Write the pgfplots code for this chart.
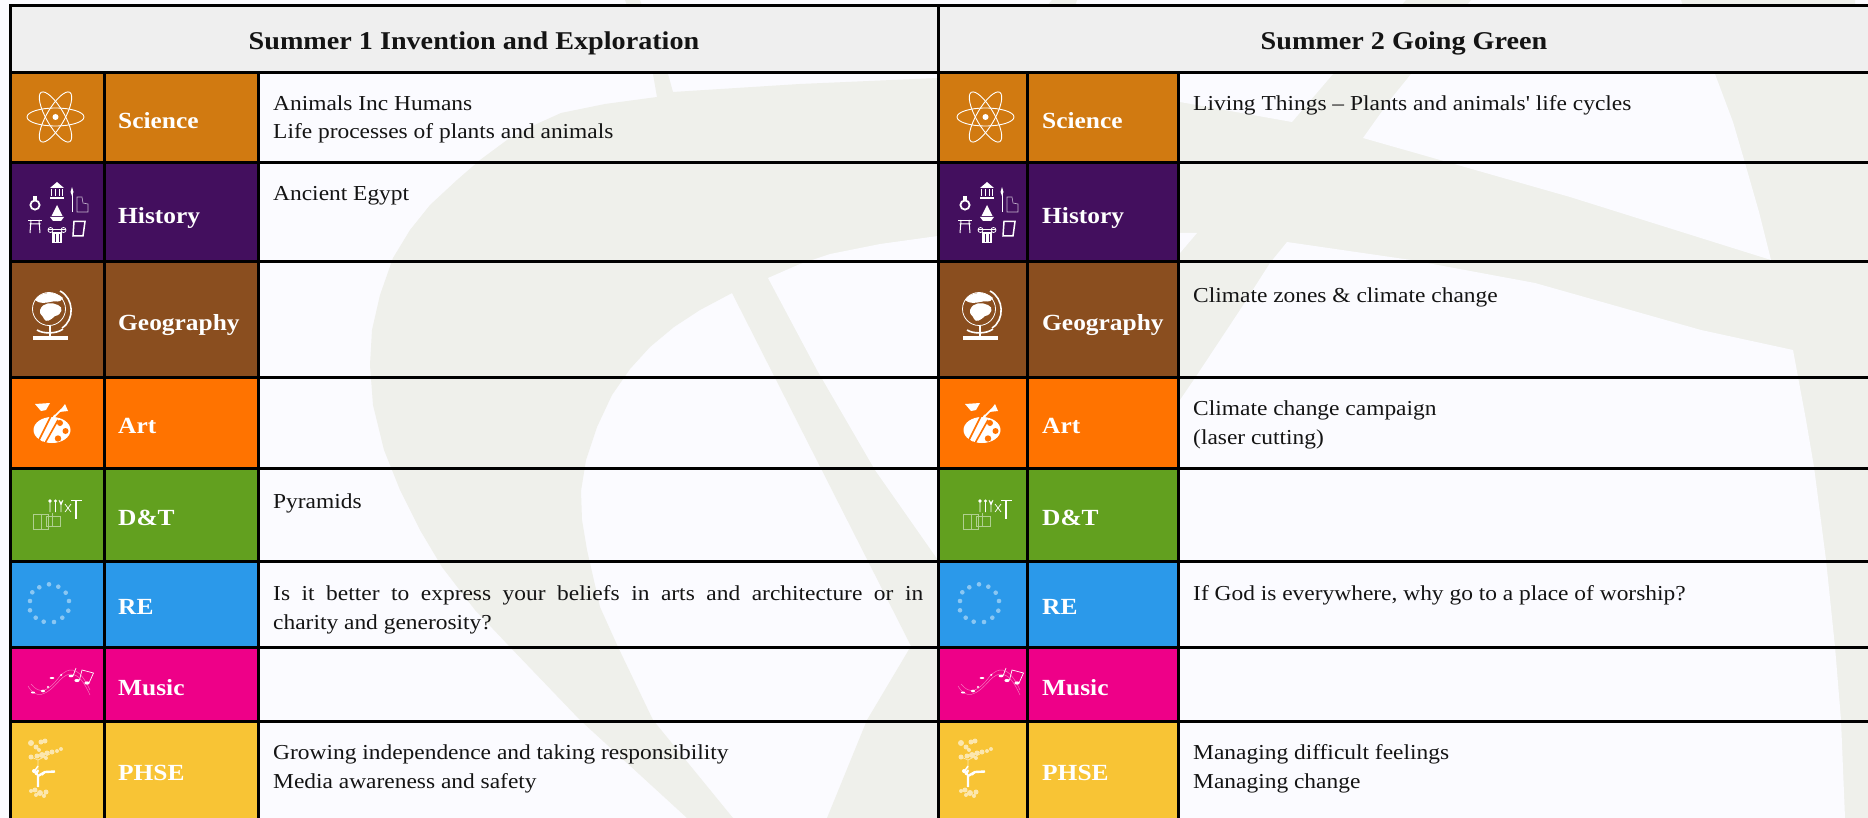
\documentclass[border=0pt]{standalone}
\usepackage{fontspec}
\setmainfont[FakeStretch=1.1]{Liberation Serif}
\newfontfamily\plainf[FakeStretch=1.1]{Liberation Serif}
\usepackage{pgfplots}
\pgfplotsset{compat=1.18}
\definecolor{bgw}{HTML}{FBFBFF}
\definecolor{wm}{HTML}{EFF0EB}
\definecolor{hdr}{HTML}{EFEFEF}
\definecolor{cSci}{HTML}{D17A11}
\definecolor{cHis}{HTML}{430F5E}
\definecolor{cGeo}{HTML}{8A4E1F}
\definecolor{cArt}{HTML}{FF7300}
\definecolor{cDT}{HTML}{62A01F}
\definecolor{cRE}{HTML}{2B99EA}
\definecolor{cMus}{HTML}{EE0088}
\definecolor{cPH}{HTML}{F8C435}
\newcommand{\poly}[2]{\addplot[fill=#1,draw=none,mark=none] coordinates {#2} --cycle;}
\newcommand{\rowfill}[3]{%
  \poly{#3}{(10,#1)(258,#1)(258,#2)(10,#2)}
  \poly{#3}{(939,#1)(1179,#1)(1179,#2)(939,#2)}}
\newcommand{\hl}[1]{\addplot[black,line width=3pt,mark=none] coordinates {(9,#1)(1868,#1)};}
\newcommand{\vl}[3]{\addplot[black,line width=3pt,mark=none] coordinates {(#1,#2)(#1,#3)};}
\newcommand{\body}[3]{\node[anchor=base west,inner sep=0pt,font=\fontsize{21.3}{25}\selectfont,text=black!92] at (axis cs:#1,#2) {#3};}
\newcommand{\lab}[2]{%
  \node[anchor=base west,inner sep=0pt,font=\fontsize{23.1}{28}\selectfont\bfseries,text=white] at (axis cs:118,#1) {#2};
  \node[anchor=base west,inner sep=0pt,font=\fontsize{23.1}{28}\selectfont\bfseries,text=white] at (axis cs:1042,#1) {#2};}
\newcommand{\icons}[1]{%
\begin{scope}[shift={(axis cs:#1,0)},x=1pt,y=-1pt]
% atom
\begin{scope}[white,line width=.9pt]
\draw (55.5,117) ellipse [x radius=28.5,y radius=9];
\draw[rotate around={60:(55.5,117)}] (55.5,117) ellipse [x radius=28.5,y radius=9];
\draw[rotate around={-60:(55.5,117)}] (55.5,117) ellipse [x radius=28.5,y radius=9];
\fill (55.5,117) circle (3);
\end{scope}
% history
\begin{scope}[white]
\fill (50,188)--(57,182)--(64,188)--cycle;
\fill (50,197) rectangle (64,199.5);
\draw[line width=1pt] (51.5,189)--(51.5,196) (55,189)--(55,196) (59,189)--(59,196) (62.5,189)--(62.5,196);
\draw[line width=1.8pt] (35,205) circle (4.6);
\fill (33,196) rectangle (37,200);
\fill (57,205)--(51.5,216)--(62.5,216)--cycle;
\fill (50,217)--(64,217)--(61,221)--(53,221)--cycle;
\draw[line width=.9pt] (72,191)--(72,212);
\fill (72,187)--(73.5,192)--(72,196)--(70.5,192)--cycle;
\draw[white!70!cHis,line width=.6pt] (77,197)--(82,197)--(83,203)--(88,204)--(88,212)--(77,212)--cycle;
\draw[line width=1.6pt] (28,220.5)--(42,220.5);
\draw[line width=1pt] (29.5,224)--(40.5,224) (31,220)--(30,233) (39,220)--(40,233);
\draw[line width=1.4pt] (48,229.5)--(66,229.5);
\draw[line width=.8pt] (50.5,230) circle (2.5) (63.5,230) circle (2.5);
\fill (52,232) rectangle (62,243);
\draw[cHis,line width=.6pt] (55,234)--(55,242) (59,234)--(59,242);
\draw[line width=1.5pt] (74,221.5)--(85,221.5)--(83,236)--(73,236)--cycle;
\end{scope}
% globe
\begin{scope}[white]
\draw[line width=.8pt] (49,309) circle (16.5);
\draw[line width=1.6pt] (60,291) .. controls (74,298) and (75,320) .. (62,328);
\fill (35,300) .. controls (41,291) and (56,291) .. (63,298) .. controls (60,304) and (55,300) .. (50,302) .. controls (46,303) and (39,304) .. (35,300) -- cycle;
\fill (40,310) .. controls (43,302) and (52,302) .. (58,305) .. controls (64,307) and (62,315) .. (55,316) .. controls (51,320) and (46,323) .. (44,319) .. controls (43,315) and (39,315) .. (40,310) -- cycle;
\draw[line width=1.6pt] (37,330) .. controls (43,334) and (57,334) .. (63,329);
\draw[line width=2pt] (50,326)--(50,336);
\fill (33,335.5) rectangle (68,339.5);
\end{scope}
% palette
\begin{scope}
\fill[white] (52,430) ellipse [x radius=18.5,y radius=13];
\fill[cArt] (60,423) circle (3) (65.5,431) circle (3) (58,438.5) circle (3.2);
\draw[cArt,line width=1.6pt] (37,444)--(52,414) (44,445)--(58,420);
\draw[white,line width=2pt] (42,441)--(55,415);
\fill[white] (35,404)--(50,403)--(46,410)--(41,411)--cycle;
\draw[white,line width=1.7pt] (53,418)--(62,409);
\fill[white] (59,412)--(65,404)--(68,411)--cycle;
\end{scope}
% D&T
\begin{scope}[white]
\draw[line width=1.8pt] (71,500.5)--(82,500.5);
\draw[line width=2.6pt] (76,500)--(76,519);
\fill (50,501) circle (1.8) (55.5,501) circle (1.6);
\draw[line width=.8pt] (50,501)--(50,512) (55.5,501)--(55.5,512) (61,501)--(61,512) (59,500)--(61,505)--(63,500);
\draw[line width=.7pt] (65,504)--(71,512) (71,504)--(65,512);
\draw[white!50!cDT,line width=.7pt] (33,514) rectangle (48,529) (46,516) rectangle (60,526) (41,514)--(41,529) (52,513)--(52,526);
\end{scope}
% RE
\begin{scope}[white,opacity=.45]
\foreach \p/\q in {39.3/587.3,49/584.3,58.3/586.7,65.7/592.7,69/601,68.3/610.7,62.3/617.7,54/622,43.7/621.7,35.7/617.7,30/610.3,30/601,32.3/592.3}{
  \fill (\p,\q) circle (2.3);}
\end{scope}
% Music
\begin{scope}[white]
\draw[white!45!cMus,line width=.5pt] (28,686) .. controls (36,700) and (46,696) .. (60,680) .. controls (68,672) and (78,668) .. (90,695);
\draw[white!45!cMus,line width=.5pt] (31,684) .. controls (40,695) and (48,692) .. (60,676) .. controls (68,668) and (78,664) .. (90,690);
\fill (33,692.5) ellipse [x radius=2,y radius=1] (43,691) ellipse [x radius=2,y radius=1.3] (48,687) circle (1.1) (52,678) ellipse [x radius=2.4,y radius=1] (61,675) circle (1) (71,676) ellipse [x radius=2.4,y radius=1.3] (77,680.5) ellipse [x radius=2.6,y radius=1.6] (87,683) ellipse [x radius=2.6,y radius=1.6];
\draw[line width=.7pt] (79.5,680)--(82,670)--(93.5,673)--(89,683) (73,676)--(76,668) (61,675)--(62,674);
\end{scope}
% PHSE
\begin{scope}
\fill[white!60!cPH] (31,743) circle (3) (36,747) circle (2.5) (41,742) circle (2.5) (45,741) circle (2.5) (39,750) circle (2) (31,757) circle (2.5) (37,756) circle (2.5) (42,755) circle (3) (47,753) circle (2.5) (52,752) circle (2.5) (57,751) circle (2) (61,749) circle (2) (46,758) circle (2) (35,790) circle (2.5) (40,793) circle (3) (46,792) circle (2.5) (31,791) circle (2) (36,795) circle (2) (44,796) circle (2);
\draw[white!60!cPH,line width=.7pt] (38,760)--(38,770) (38,760)--(31,757) (38,760)--(50,754);
\draw[white,line width=2.4pt] (38,770)--(36,775) (38,787)--(38,776)--(45,772)--(55,771.5);
\draw[white,line width=1.5pt] (38,775)--(34,772)--(38,766) (45,772)--(42,775);
\fill[white] (34,771) circle (2);
\end{scope}
\end{scope}}
\begin{document}
\begin{tikzpicture}
\begin{axis}[scale only axis,width=1868pt,height=818pt,xmin=0,xmax=1868,ymin=0,ymax=818,y dir=reverse,axis lines=none,ticks=none]
\poly{bgw}{(0,0)(1868,0)(1868,818)(0,818)}
% watermark, strip above the table
\poly{wm}{(625,0)(640,0)(642,6)(627,6)}
\poly{wm}{(1052,0)(1077,0)(1075,6)(1047,6)}
\poly{wm}{(1406,0)(1471,0)(1466,6)(1401,6)}
\poly{wm}{(1681,0)(1855,0)(1855,6)(1683,6)}
% watermark, left text column
\poly{wm}{(938,78)(800,84)(673,92)(668,74)(653,74)(657,97)(605,104)(561,113)(530,127)(507,140)(480,160)(457,180)(430,205)(410,230)(393,258)(380,295)(372,330)(370,365)(373,405)(384,450)(400,490)(420,530)(442,567)(475,610)(510,647)(580,720)(687,818)(733,818)(653,720)(618,647)(600,607)(587,550)(582,520)(581,491)(586,460)(597,427)(612,395)(630,369)(650,347)(674,327)(700,310)(732,293)(911,646)(867,720)(827,818)(938,818)}
\poly{bgw}{(768,278)(800,264)(830,254)(880,244)(938,236)(938,560)(875,470)(817,370)}
% watermark, right text column
\poly{wm}{(1180,74)(1868,74)(1868,818)(1180,818)}
\poly{bgw}{(1180,74)(1333,74)(1292,122)(1180,102)}
\poly{bgw}{(1411,74)(1715,74)(1733,122)(1745,163)(1759,212)(1771,260)(1570,197)(1363,138)(1390,100)}
\poly{bgw}{(1180,233)(1197,233)(1180,253)}
\poly{bgw}{(1287,242)(1411,260)(1535,283)(1701,330)(1793,350)(1806,420)(1814,467)(1826,560)(1835,647)(1841,720)(1845,818)(1180,818)(1180,400)(1197,375)(1240,310)(1270,263)}
% header
\poly{hdr}{(10,6)(1868,6)(1868,73)(10,73)}
% colour cells
\rowfill{73}{163}{cSci}
\rowfill{163}{262}{cHis}
\rowfill{262}{377}{cGeo}
\rowfill{377}{468}{cArt}
\rowfill{468}{561}{cDT}
\rowfill{561}{647}{cRE}
\rowfill{647}{721}{cMus}
\rowfill{721}{818}{cPH}
% rules
\hl{6}\hl{73}\hl{163}\hl{262}\hl{377}\hl{468}\hl{561}\hl{647}\hl{721}
\vl{10.5}{5}{818}
\vl{104}{73}{818}
\vl{258.5}{73}{818}
\vl{938.5}{5}{818}
\vl{1027}{73}{818}
\vl{1178.5}{73}{818}
% header text
\node[anchor=base,inner sep=0pt,font=\fontsize{25.6}{30}\selectfont\bfseries,text=black!92] at (axis cs:474,50) {Summer 1 Invention and Exploration};
\node[anchor=base,inner sep=0pt,font=\fontsize{25.6}{30}\selectfont\bfseries,text=black!92] at (axis cs:1404,50) {Summer 2 Going Green};
% labels
\lab{129}{Science}
\lab{224}{History}
\lab{330}{Geography}
\lab{433}{Art}
\lab{525}{D\&T}
\lab{614}{RE}
\lab{695}{Music}
\lab{780}{PHSE}
% body
\body{273}{111}{Animals Inc Humans}
\body{273}{139}{Life processes of plants and animals}
\body{273}{201}{Ancient Egypt}
\body{273}{508}{Pyramids}
\body{273}{600}{\makebox[650pt][s]{Is it better to express your beliefs in arts and architecture or in}}
\body{273}{629}{charity and generosity?}
\body{273}{759}{Growing independence and taking responsibility}
\body{273}{788}{Media awareness and safety}
\body{1193}{111}{Living Things – Plants and animals{\plainf'} life cycles}
\body{1193}{302}{Climate zones \& climate change}
\body{1193}{415}{Climate change campaign}
\body{1193}{444}{(laser cutting)}
\body{1193}{600}{If God is everywhere, why go to a place of worship?}
\body{1193}{759}{Managing difficult feelings}
\body{1193}{788}{Managing change}
\pgfplotsextra{\icons{0}\icons{930}}
\end{axis}
\end{tikzpicture}
\end{document}
